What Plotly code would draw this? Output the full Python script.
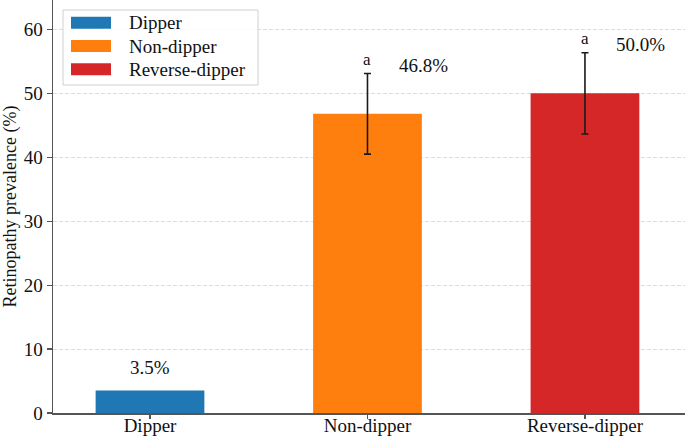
import plotly.graph_objects as go

categories = ["Dipper", "Non-dipper", "Reverse-dipper"]
prevalence = [3.5, 46.8, 50.0]
err_half = [0.0, 6.3, 6.35]
pct_labels = ["3.5%", "46.8%", "50.0%"]
sig_letters = ["", "a", "a"]
colors = ["#1f77b4", "#ff7f0e", "#d62728"]
y_ticks = [0, 10, 20, 30, 40, 50, 60]

FONT = "'Liberation Serif', 'Times New Roman', Times, 'DejaVu Serif', serif"
W, H = 685, 436
ML, MR, MT, MB = 53, 0, 0, 23
PW, PH = W - ML - MR, H - MT - MB

def px_x(p):
    return (p - ML) / PW

def px_y(p):
    return (H - MB - p) / PH

fig = go.Figure()
for i, cat in enumerate(categories):
    fig.add_trace(go.Bar(
        x=[i], y=[prevalence[i]], width=0.5, name=cat,
        marker=dict(color=colors[i], line=dict(width=0)),
        error_y=dict(type="data", array=[err_half[i]], visible=err_half[i] > 0,
                     color="#1a1a1a", thickness=1.6, width=3.5),
        showlegend=False, hoverinfo="skip",
    ))

annotations = []
for i, cat in enumerate(categories):
    top = prevalence[i] + err_half[i]
    if err_half[i] > 0:
        annotations.append(dict(x=i, y=top, text=sig_letters[i], showarrow=False,
                                yanchor="middle", yshift=14,
                                font=dict(family=FONT, size=17, color="#111")))
        annotations.append(dict(x=i, y=top, text=pct_labels[i], showarrow=False,
                                yanchor="middle", xshift=56, yshift=8,
                                font=dict(family=FONT, size=19, color="#111")))
    else:
        annotations.append(dict(x=i, y=top, text=pct_labels[i], showarrow=False,
                                yanchor="middle", yshift=23,
                                font=dict(family=FONT, size=19, color="#111")))

# custom legend (wide swatches like the reference)
shapes = [dict(type="rect", xref="paper", yref="paper",
               x0=px_x(63), x1=px_x(258), y0=px_y(85), y1=px_y(10),
               line=dict(color="#d0d0d0", width=1), fillcolor="rgba(255,255,255,0.85)",
               layer="above")]
row_y = [22.7, 46, 69.3]
for i, cat in enumerate(categories):
    shapes.append(dict(type="rect", xref="paper", yref="paper",
                       x0=px_x(71), x1=px_x(111), y0=px_y(row_y[i] + 6), y1=px_y(row_y[i] - 6),
                       line=dict(width=0), fillcolor=colors[i], layer="above"))
    annotations.append(dict(xref="paper", yref="paper", x=px_x(127), y=px_y(row_y[i]),
                            text=cat, showarrow=False, xanchor="left", yanchor="middle",
                            font=dict(family=FONT, size=19, color="#111")))

fig.update_layout(
    width=W, height=H,
    margin=dict(l=ML, r=MR, t=MT, b=MB, pad=0),
    paper_bgcolor="white", plot_bgcolor="white",
    font=dict(family=FONT, size=18, color="#111"),
    shapes=shapes, annotations=annotations,
)
fig.update_xaxes(
    range=[-0.446, 2.46], tickmode="array", tickvals=[0, 1, 2], ticktext=categories,
    showline=True, linecolor="#555", linewidth=1.5, ticks="outside", ticklen=4,
    tickcolor="#555", tickwidth=1.2, showgrid=False, zeroline=False,
    tickfont=dict(family=FONT, size=19, color="#111"),
    ticklabelstandoff=-9, automargin=False,
)
fig.update_yaxes(
    range=[0, 64.6], tickmode="array", tickvals=y_ticks,
    showline=True, linecolor="#555", linewidth=1.5, ticks="outside", ticklen=5,
    tickcolor="#555", tickwidth=1.2,
    showgrid=True, gridcolor="#dcdcdc", griddash="4px,2px", gridwidth=1, zeroline=False,
    tickfont=dict(family=FONT, size=19, color="#111"),
    title=dict(text="Retinopathy prevalence (%)", standoff=10,
               font=dict(family=FONT, size=18, color="#111")),
    automargin=False,
)

fig.write_html("out.html", config={"displayModeBar": False, "staticPlot": True},
               post_script="document.body.style.margin='0';document.body.style.overflow='hidden';")
